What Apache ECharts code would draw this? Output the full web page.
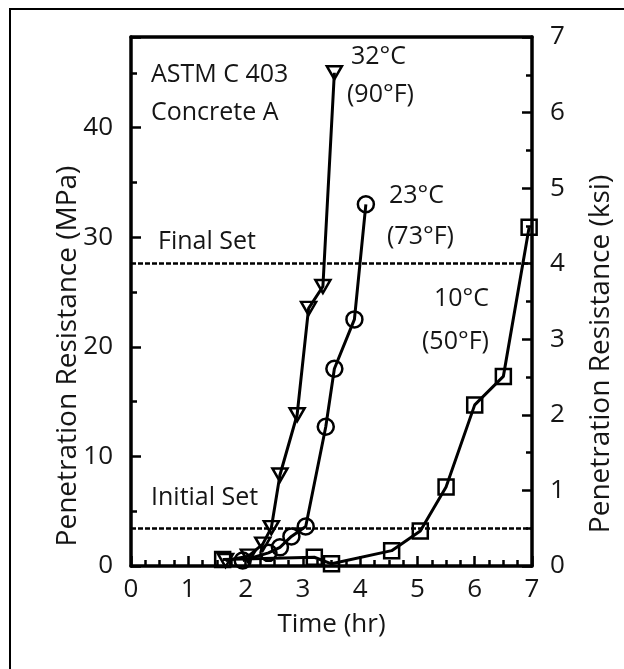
<!DOCTYPE html>
<html>
<head>
<meta charset="utf-8">
<script src="https://cdn.jsdelivr.net/npm/echarts@6/dist/echarts.min.js"></script>
<style>
  html, body { margin: 0; background: #fff; }
  #chart { width: 624px; height: 669px; }
</style>
</head>
<body>
<div id="chart"></div>
<script>
// penetration resistance (MPa) vs time (hr), ASTM C 403, concrete A
const hot32 = [[1.65, 0.5], [2.05, 0.9], [2.3, 2.0], [2.45, 3.5], [2.6, 8.3], [2.9, 13.8], [3.1, 23.5], [3.35, 25.5], [3.55, 45.0]];
const mid23 = [[1.95, 0.5], [2.4, 1.2], [2.6, 1.7], [2.8, 2.7], [3.05, 3.6], [3.4, 12.7], [3.55, 18.0], [3.9, 22.5], [4.1, 33.0]];
const cold10 = [[1.6, 0.6], [3.2, 0.8], [3.5, 0.2], [4.55, 1.4], [5.05, 3.2], [5.5, 7.2], [6.0, 14.7], [6.5, 17.3], [6.95, 30.9]];

const initialSet = 3.45;   // 500 psi
const finalSet = 27.58;    // 4000 psi
const KSI = 6.894757;      // MPa per ksi
const timeTicks = [0, 1, 2, 3, 4, 5, 6, 7];
const ksiTicks = [0, 1, 2, 3, 4, 5, 6, 7];

const FONT = 'Open Sans';
const INK = '#151515';
const chart = echarts.init(document.getElementById('chart'));

const tickStyle = { show: true, inside: true, length: 10, lineStyle: { color: '#000', width: 2.5 } };
const minorStyle = { show: true, length: 6, lineStyle: { color: '#000', width: 2.5 } };
const axisLine = { show: true, onZero: false, lineStyle: { color: '#000', width: 3.5 } };
const labelStyle = { color: INK, fontFamily: FONT, fontSize: 26 };

function lineSeries(name, data, symbol, size, rotate) {
  return {
    name: name,
    type: 'line',
    data: data,
    symbol: symbol,
    symbolSize: size,
    symbolRotate: rotate || 0,
    clip: false,
    showAllSymbol: true,
    lineStyle: { color: '#000', width: 3 },
    itemStyle: { color: 'rgba(255,255,255,0)', borderColor: '#000', borderWidth: 2.5 },
    z: 3
  };
}

const series = [
  lineSeries('32°C', hot32, 'triangle', [15, 13], 180),
  lineSeries('23°C', mid23, 'circle', 16),
  lineSeries('10°C', cold10, 'rect', 15),
  {
    type: 'line',
    data: [],
    markLine: {
      silent: true,
      symbol: ['none', 'none'],
      label: { show: false },
      lineStyle: { color: '#000', type: [5, 2], width: 2.5 },
      data: [{ yAxis: finalSet }, { yAxis: initialSet }]
    }
  }
];

const notes = [
  { text: 'ASTM C 403', x: 151, y: 75 },
  { text: 'Concrete A', x: 151, y: 113 },
  { text: '32°C', x: 351, y: 57 },
  { text: '(90°F)', x: 347, y: 95 },
  { text: '23°C', x: 389, y: 196 },
  { text: '(73°F)', x: 387, y: 237 },
  { text: '10°C', x: 434, y: 299 },
  { text: '(50°F)', x: 422, y: 342 },
  { text: 'Final Set', x: 158, y: 242 },
  { text: 'Initial Set', x: 151, y: 498 }
];

const graphic = notes.map(n => ({
  type: 'text',
  x: n.x, y: n.y,
  z: 10,
  style: { text: n.text, fill: INK, font: '25px ' + FONT, textVerticalAlign: 'middle' }
}));

graphic.push({
  type: 'text', x: 68, y: 356, rotation: Math.PI / 2,
  style: { text: 'Penetration Resistance (MPa)', fill: INK, font: '28px ' + FONT, textAlign: 'center', textVerticalAlign: 'middle' }
});
graphic.push({
  type: 'text', x: 601, y: 354, rotation: Math.PI / 2,
  style: { text: 'Penetration Resistance (ksi)', fill: INK, font: '28px ' + FONT, textAlign: 'center', textVerticalAlign: 'middle' }
});
graphic.push({
  type: 'rect', shape: { x: 10, y: 9, width: 640, height: 700 },
  style: { fill: 'none', stroke: '#000', lineWidth: 2 }
});

chart.setOption({
  animation: false,
  backgroundColor: '#fff',
  grid: { left: 131, top: 37, right: 92, bottom: 103 },
  xAxis: [
    {
      type: 'value', position: 'bottom', min: 0, max: 7, interval: 1,
      axisLine: axisLine, axisTick: tickStyle,
      minorTick: Object.assign({ splitNumber: 4 }, minorStyle),
      splitLine: { show: false },
      axisLabel: Object.assign({ margin: 11, formatter: v => timeTicks.includes(v) ? String(v) : '' }, labelStyle),
      name: 'Time (hr)', nameLocation: 'middle', nameGap: 46,
      nameTextStyle: { color: INK, fontFamily: FONT, fontSize: 26 }
    },
    {
      type: 'value', position: 'top', min: 0, max: 7, interval: 1,
      axisLine: axisLine, axisTick: { show: false }, axisLabel: { show: false }, splitLine: { show: false }
    }
  ],
  yAxis: [
    {
      type: 'value', position: 'left', min: 0, max: 7 * KSI, interval: 10,
      axisLine: axisLine, axisTick: tickStyle,
      minorTick: Object.assign({ splitNumber: 2 }, minorStyle),
      splitLine: { show: false },
      axisLabel: Object.assign({ margin: 18, formatter: v => (v % 10 === 0 ? String(v) : '') }, labelStyle)
    },
    {
      type: 'value', position: 'right', min: 0, max: 7, interval: 1,
      axisLine: axisLine, axisTick: tickStyle,
      minorTick: Object.assign({ splitNumber: 2 }, minorStyle),
      splitLine: { show: false },
      axisLabel: Object.assign({ margin: 18, formatter: v => ksiTicks.includes(v) ? String(v) : '' }, labelStyle)
    }
  ],
  series: series,
  graphic: graphic
});
</script>
</body>
</html>
